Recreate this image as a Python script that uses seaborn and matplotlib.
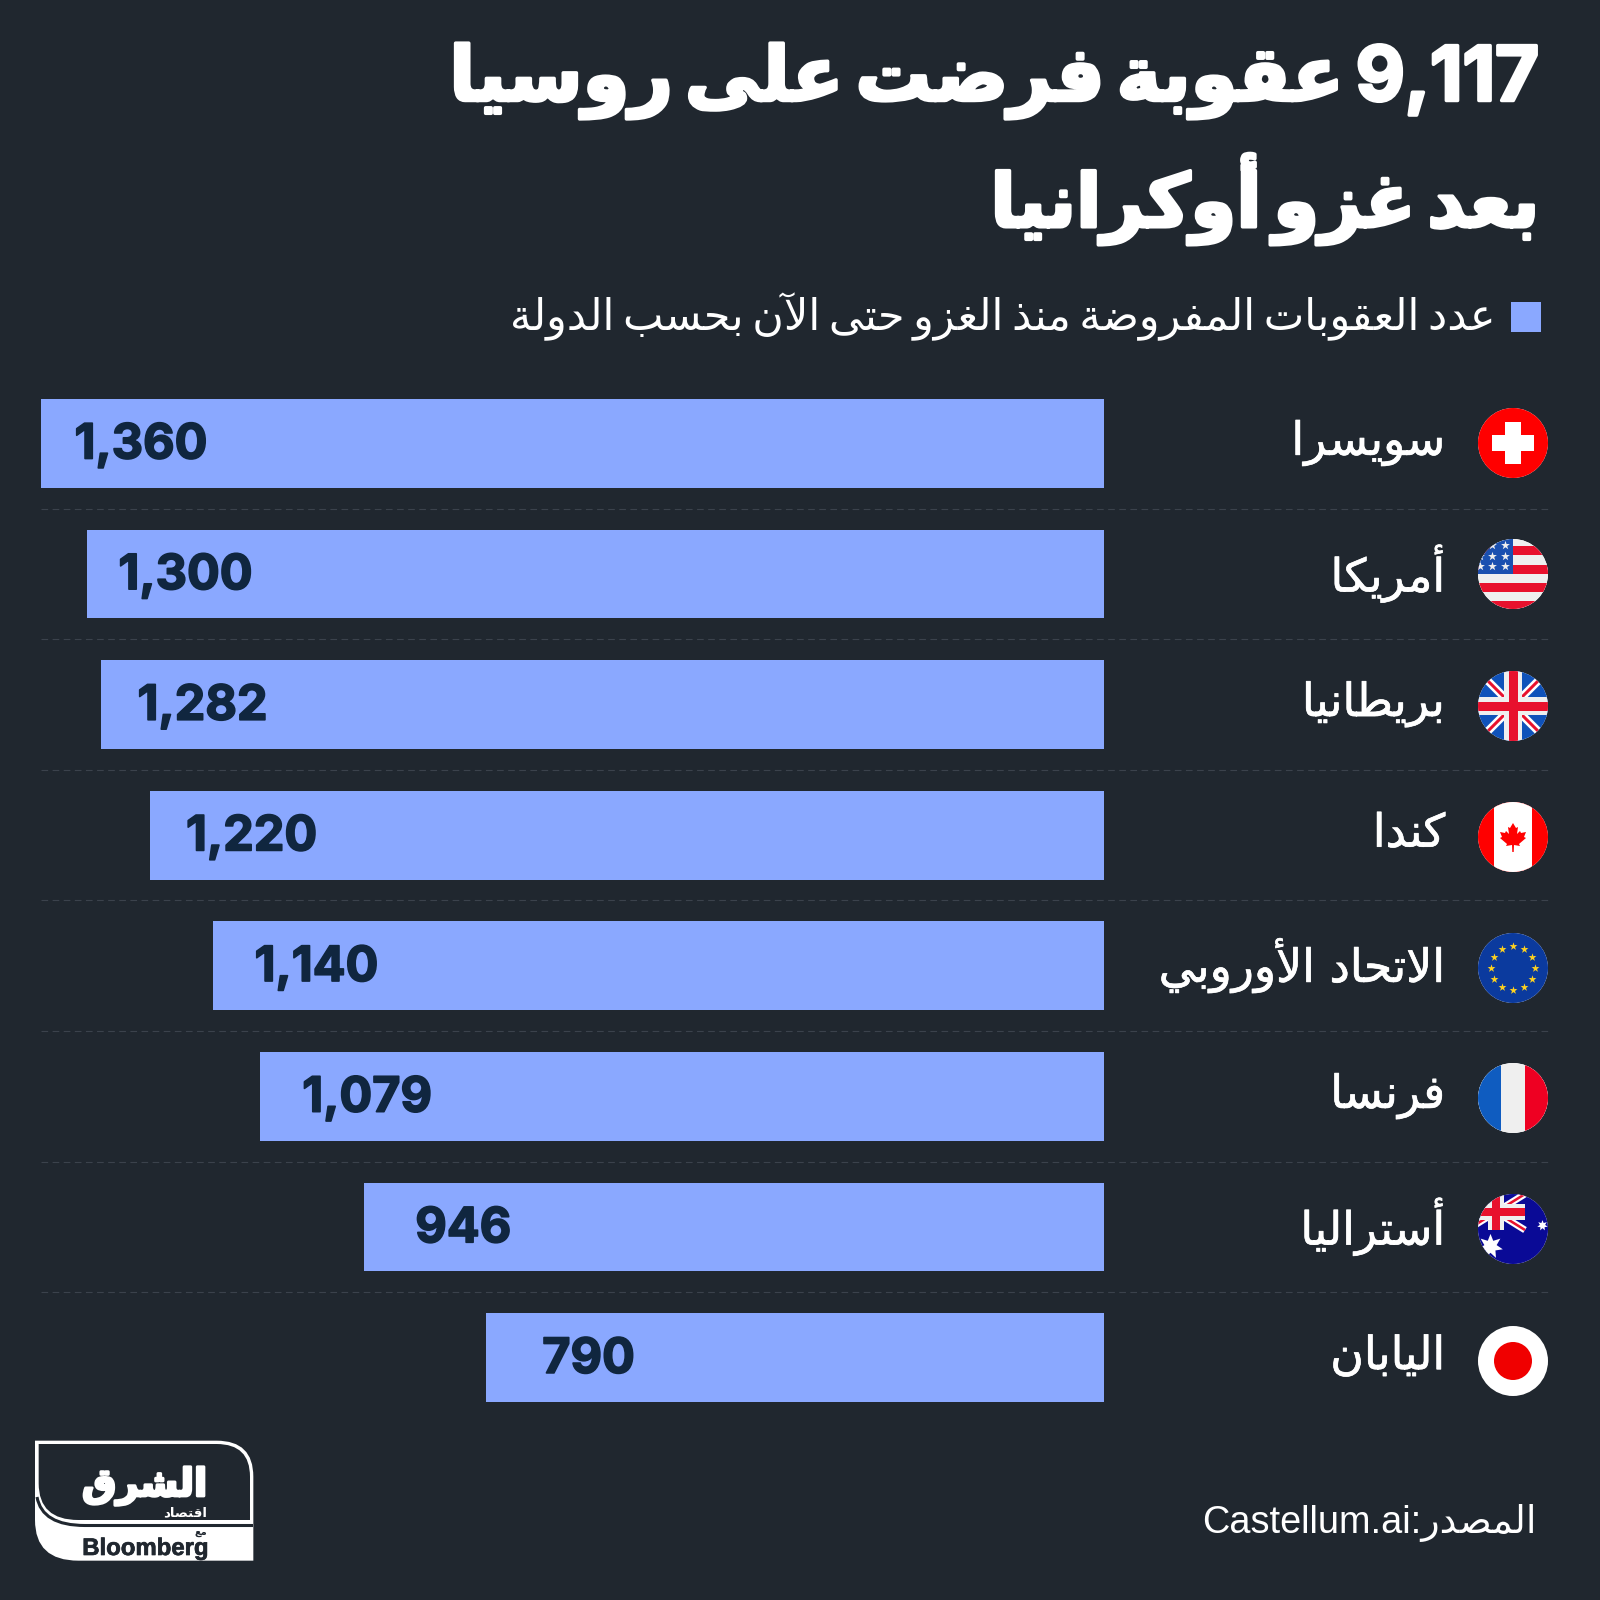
import numpy as np
import pandas as pd
import matplotlib
matplotlib.use('Agg')
import matplotlib.pyplot as plt
import matplotlib.patheffects as pe
from matplotlib.patches import Circle, Rectangle, Polygon, PathPatch
from matplotlib.path import Path
from matplotlib.transforms import ScaledTranslation
import seaborn as sns

countries = ['سويسرا', 'أمريكا', 'بريطانيا', 'كندا', 'الاتحاد الأوروبي', 'فرنسا', 'أستراليا', 'اليابان']
sanctions = [1360, 1300, 1282, 1220, 1140, 1079, 946, 790]
value_labels = ['1,360', '1,300', '1,282', '1,220', '1,140', '1,079', '946', '790']
label_pads = [34, 31, 36, 36, 42, 42, 51, 56]
flags = ['ch', 'us', 'uk', 'ca', 'eu', 'fr', 'au', 'jp']
title_1 = '9,117 عقوبة فرضت على روسيا'
title_2 = 'بعد غزو أوكرانيا'
subtitle = 'عدد العقوبات المفروضة منذ الغزو حتى الآن بحسب الدولة'

BG = '#20272f'
BAR = '#8aa8ff'
NUM = '#10263f'
WHITE = '#ffffff'

# arabic presentation forms: isolated, final, initial, medial
forms = {}
for c, code in zip('بتثجحخسشصضطظعغفقكلمنهي',
                   [0xFE8F, 0xFE95, 0xFE99, 0xFE9D, 0xFEA1, 0xFEA5, 0xFEB1, 0xFEB5, 0xFEB9, 0xFEBD, 0xFEC1,
                    0xFEC5, 0xFEC9, 0xFECD, 0xFED1, 0xFED5, 0xFED9, 0xFEDD, 0xFEE1, 0xFEE5, 0xFEE9, 0xFEF1]):
    forms[c] = [chr(code + k) for k in range(4)]
for c, code in zip('اأآإدذرزوةى', [0xFE8D, 0xFE83, 0xFE81, 0xFE87, 0xFEA9, 0xFEAB, 0xFEAD, 0xFEAF, 0xFEED, 0xFE93, 0xFEEF]):
    forms[c] = [chr(code), chr(code + 1)]
lam_alef = {'ا': 0xFEFB, 'أ': 0xFEF7, 'آ': 0xFEF5, 'إ': 0xFEF9}


def shape_word(word):
    out = []
    i = 0
    prev_joins = False
    while i < len(word):
        c = word[i]
        if c == 'ل' and i + 1 < len(word) and word[i + 1] in lam_alef:
            out.append(chr(lam_alef[word[i + 1]] + (1 if prev_joins else 0)))
            prev_joins = False
            i += 2
            continue
        f = forms[c]
        next_ok = i + 1 < len(word) and word[i + 1] in forms and len(f) == 4
        if prev_joins and next_ok:
            out.append(f[3])
        elif prev_joins:
            out.append(f[1])
        elif next_ok:
            out.append(f[2])
        else:
            out.append(f[0])
        prev_joins = next_ok
        i += 1
    return ''.join(out)[::-1]


def ar(text, sep=' '):
    words = []
    for w in text.split(' '):
        words.append(shape_word(w) if w[0] in forms else w)
    return sep.join(words[::-1])


sns.set_theme(style='white')
mixed = ['Liberation Sans', 'DejaVu Sans']
title_fonts = ['Inter', 'DejaVu Sans']
plt.rcParams['font.family'] = mixed

fig = plt.figure(figsize=(16, 16), dpi=100, facecolor=BG)

# bars, pixel box 40.5..1104 and 378..1423
ax = fig.add_axes([40.5 / 1600, 1 - 1423 / 1600, (1104 - 40.5) / 1600, 1045 / 1600])
ax.set_facecolor('none')
df = pd.DataFrame({'country': countries, 'sanctions': sanctions})
sns.barplot(data=df, x='sanctions', y='country', color=BAR, saturation=1, width=0.68, orient='h', linewidth=0, ax=ax)
ax.set_xlim(1360, 0)
ax.set_ylim(7.5, -0.5)
ax.set(xlabel='', ylabel='', xticks=[])
sns.despine(ax=ax, left=True, bottom=True)
ax.yaxis.tick_right()
ax.tick_params(axis='y', length=0, pad=246, labelsize=33, labelcolor=WHITE)
ax.set_yticks(range(len(countries)))
ax.set_yticklabels([ar(c) for c in countries], ha='right', family='DejaVu Sans')
for lab in ax.get_yticklabels():
    lab.set_path_effects([pe.withStroke(linewidth=0.5, foreground=WHITE)])
    lab.set_transform(lab.get_transform() + ScaledTranslation(0, 0.06, fig.dpi_scale_trans))
ax.grid(False)
for i, (v, t, pad) in enumerate(zip(sanctions, value_labels, label_pads)):
    ax.annotate(t, (v, i), xytext=(pad * 0.72, 2), textcoords='offset points', ha='left', va='center_baseline',
                fontsize=35, fontweight='bold', color=NUM, family='Inter',
                path_effects=[pe.withStroke(linewidth=1.2, foreground=NUM)])

# overlay in pixels
ov = fig.add_axes([0, 0, 1, 1], facecolor='none')
ov.set_xlim(0, 1600)
ov.set_ylim(1600, 0)
ov.axis('off')
fig.canvas.draw()
renderer = fig.canvas.get_renderer()


def put(text, x, y, size, width=None, ha='right', weight='normal', color=WHITE, family=mixed, stroke=0):
    t = ov.text(x, y, text, ha=ha, va='center_baseline', fontsize=size, fontweight=weight, color=color, family=family)
    if width:
        t.set_fontsize(size * width / t.get_window_extent(renderer).width)
    if stroke:
        t.set_path_effects([pe.withStroke(linewidth=stroke, foreground=color)])
    return t


# title, subtitle, source
put(ar(title_1, '\u2009'), 1539, 72, 60, width=1091, weight='bold', family=title_fonts, stroke=2.5)
put(ar(title_2, '\u2009'), 1539, 190, 60, width=550, weight='bold', family=title_fonts, stroke=2.5)
ov.add_patch(Rectangle((1511, 302), 30, 30, color=BAR, lw=0))
put(ar(subtitle, '\u2009'), 1495, 311, 30, width=985, family='DejaVu Sans')
put('Castellum.ai:' + shape_word('المصدر'), 1537, 1519, 28, width=334)

# row dividers
for i in range(7):
    y = 508.5 + 130.6 * i
    ov.plot([41, 1549], [y, y], color='#3b424c', lw=0.8, ls=(0, (6, 4)))


# flags
def flag(kind, cx, cy, r=35):
    disc = Circle((cx, cy), r, color=WHITE, lw=0, zorder=3)
    ov.add_patch(disc)

    def rect(x0, y0, x1, y1, color, z=4):
        p = Rectangle((cx + x0, cy + y0), x1 - x0, y1 - y0, color=color, lw=0, zorder=z)
        ov.add_patch(p)
        p.set_clip_path(disc)

    def line(x0, y0, x1, y1, color, px, z=5):
        l, = ov.plot([cx + x0, cx + x1], [cy + y0, cy + y1], color=color, lw=px * 0.72, zorder=z, solid_capstyle='butt')
        l.set_clip_path(disc)

    def stars(xs, ys, color, s, marker='*'):
        p = ov.scatter(np.array(xs) + cx, np.array(ys) + cy, s=s, c=color, marker=marker, linewidths=0, zorder=7)
        p.set_clip_path(disc)

    def union(x0, y0, x1, y1, scale):
        mx, my = (x0 + x1) / 2, (y0 + y1) / 2
        line(x0, y0, x1, y1, WHITE, 8 * scale)
        line(x0, y1, x1, y0, WHITE, 8 * scale)
        line(x0, y0, x1, y1, '#e8112d', 3 * scale)
        line(x0, y1, x1, y0, '#e8112d', 3 * scale)
        rect(mx - 9 * scale, y0, mx + 9 * scale, y1, '#efefef', 6)
        rect(x0, my - 9 * scale, x1, my + 9 * scale, '#efefef', 6)
        rect(mx - 4.5 * scale, y0, mx + 4.5 * scale, y1, '#e8112d', 6)
        rect(x0, my - 4.5 * scale, x1, my + 4.5 * scale, '#e8112d', 6)

    if kind == 'ch':
        rect(-35, -35, 35, 35, '#ff0000')
        rect(-21, -8, 21, 8, WHITE, 5)
        rect(-8, -21, 8, 21, WHITE, 5)
    elif kind == 'us':
        rect(-35, -35, 35, 35, '#efefef')
        for y0, y1 in [(-28, -19), (-9, 0), (9, 18), (27, 35)]:
            rect(-35, y0, 35, y1, '#e8112d')
        rect(-35, -35, 0, 0, '#1a50b0', 5)
        stars([-8, -21, -33] * 3, [-29] * 3 + [-18] * 3 + [-8] * 3, '#efefef', 45)
    elif kind == 'uk':
        rect(-35, -35, 35, 35, '#0f52ba')
        union(-35, -35, 35, 35, 1)
    elif kind == 'ca':
        rect(-35, -35, 35, 35, '#ff0000')
        rect(-19, -35, 19, 35, WHITE, 5)
        leaf = [(0, -14), (-3, -9), (-5, -10), (-4, -3), (-7, -6), (-8, -4), (-13, -5), (-11, 0), (-13, 1),
                (-6, 7), (-7, 9), (-1, 8), (-0.7, 15), (0.7, 15), (1, 8), (7, 9), (6, 7), (13, 1), (11, 0),
                (13, -5), (8, -4), (7, -6), (4, -3), (5, -10), (3, -9)]
        ov.add_patch(Polygon([(cx + a, cy + b) for a, b in leaf], color='#ff0000', lw=0, zorder=6))
    elif kind == 'eu':
        rect(-35, -35, 35, 35, '#0b3a9e')
        ang = np.arange(12) * np.pi / 6
        stars(21.7 * np.sin(ang), -21.7 * np.cos(ang), '#ffd21f', 36)
    elif kind == 'fr':
        rect(-35, -35, 35, 35, '#efefef')
        rect(-35, -35, -12, 35, '#0f5cc0')
        rect(12, -35, 35, 35, '#ee0022')
    elif kind == 'au':
        rect(-35, -35, 35, 35, '#0a0a96')
        union(-46, -35, 12, 1, 0.85)
        stars([-23], [17], WHITE, 330, (7, 1, 0))
        stars([29], [-4], WHITE, 60, (7, 1, 0))
    elif kind == 'jp':
        ov.add_patch(Circle((cx, cy), 19, color='#f00000', lw=0, zorder=5))


flag_y = [443, 574, 706, 837, 968, 1098, 1229, 1361]
for k, y in zip(flags, flag_y):
    flag(k, 1513, y)

# logo
verts = lambda pts: [(20 + a / 3, 1420 + b / 3) for a, b in pts]
M, L, Q, Z = Path.MOVETO, Path.LINETO, Path.CURVE3, Path.CLOSEPOLY
outer = verts([(45, 62), (590, 62), (700, 62), (700, 170), (700, 422), (175, 422), (45, 422), (45, 300), (45, 62)])
ov.add_patch(PathPatch(Path(outer, [M, L, Q, Q, L, L, Q, Q, Z]), color=WHITE, lw=0, zorder=3))
inner = verts([(56, 72), (590, 72), (690, 72), (690, 170), (690, 300), (175, 300), (56, 300), (56, 190), (56, 72)])
ov.add_patch(PathPatch(Path(inner, [M, L, Q, Q, L, L, Q, Q, Z]), color=BG, lw=0, zorder=4))
gap = [(37, 1497), (42, 1525.5), (85, 1525.5), (253, 1525.5)]
ov.add_patch(PathPatch(Path(gap, [M, Q, Q, L]), facecolor='none', edgecolor=BG, lw=2.2, zorder=4))
put(shape_word('الشرق'), 207, 1481, 40, width=125, weight='bold', family='DejaVu Sans', stroke=2).set_zorder(6)
put(shape_word('اقتصاد'), 207, 1511, 12, width=44, weight='bold', family='DejaVu Sans').set_zorder(6)
put('Bloomberg', 208, 1546, 20, width=126, weight='bold', color=BG, family='Liberation Sans', stroke=0.5).set_zorder(6)
put(shape_word('مع'), 207, 1531, 7, weight='bold', color=BG, family='DejaVu Sans').set_zorder(6)

fig.savefig('out.png', dpi=100, facecolor=BG)
